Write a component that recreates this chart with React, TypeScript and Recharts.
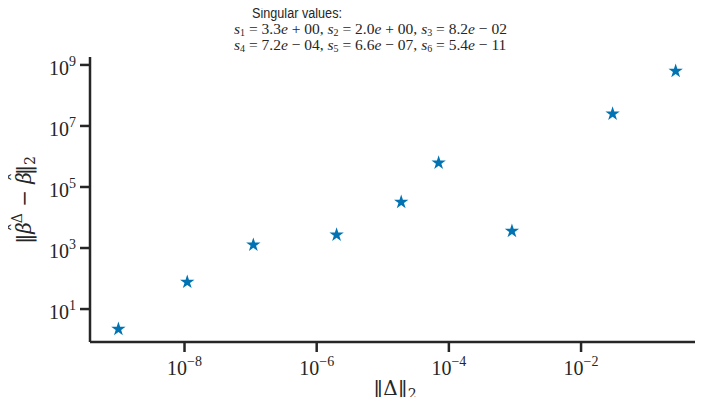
import { ScatterChart, Scatter, XAxis, YAxis, ZAxis } from "recharts"

// ||Delta||_2 and the matching ||beta_hat^Delta - beta_hat||_2
const deltaNorm = [1e-9, 1.1e-8, 1.1e-7, 2e-6, 1.9e-5, 7e-5, 9e-4, 3e-2, 0.27]
const errorNorm = [2.2, 77, 1260, 2700, 32000, 6.2e5, 3600, 2.5e7, 6.3e8]

const xTicks = [1e-8, 1e-6, 1e-4, 1e-2]
const yTicks = [1e1, 1e3, 1e5, 1e7, 1e9]

const sMantissa = ["3.3", "2.0", "8.2", "7.2", "6.6", "5.4"]
const sExpSign = ["+", "+", "−", "−", "−", "−"]
const sExponent = ["00", "00", "02", "04", "07", "11"]

const data = deltaNorm.map((x, i) => ({ x, y: errorNorm[i] }))

const SERIF = "'Liberation Serif', 'DejaVu Serif', serif"
const LABEL = "'DejaVu Serif', serif"
const SANS = "'Liberation Sans', 'DejaVu Sans', sans-serif"
const INK = "#262626"
const BLUE = "#0173B2"

const exponentOf = (v: number) => {
	const e = Math.round(Math.log10(v))
	return e < 0 ? "−" + Math.abs(e) : String(e)
}

function XTick(props: any) {
	const { x, y, payload } = props
	return (
		<text x={x} y={y + 21} textAnchor="middle" fontFamily={SERIF} fontSize={20} fill={INK}>
			10
			<tspan dy={-9} fontSize={14}>
				{exponentOf(payload.value)}
			</tspan>
		</text>
	)
}

function YTick(props: any) {
	const { x, y, payload } = props
	return (
		<text x={x - 2} y={y + 10} textAnchor="end" fontFamily={SERIF} fontSize={20} fill={INK}>
			10
			<tspan dy={-9} fontSize={14}>
				{exponentOf(payload.value)}
			</tspan>
		</text>
	)
}

function SLine({ from, to, y }: { from: number; to: number; y: number }) {
	const parts = []
	for (let i = from; i < to; i++) {
		parts.push(
			<tspan key={"s" + i} fontStyle="italic">
				s
			</tspan>,
			<tspan key={"i" + i} dy={2} fontSize={10}>
				{i + 1}
			</tspan>,
			<tspan key={"m" + i} dy={-2}>
				{" = " + sMantissa[i]}
			</tspan>,
			<tspan key={"e" + i} fontStyle="italic">
				e
			</tspan>,
			<tspan key={"x" + i}>
				{" " + sExpSign[i] + " " + sExponent[i] + (i < to - 1 ? ", " : "")}
			</tspan>
		)
	}
	return (
		<text x={234} y={y} fontFamily={SERIF} fontSize={15.5} fill={INK}>
			{parts}
		</text>
	)
}

export default function App() {
	return (
		<div style={{ position: "relative", width: 703, height: 405, margin: -8, background: "#fff" }}>
			<ScatterChart width={703} height={405} margin={{ top: 57, right: 1, bottom: 0, left: 0 }}>
				<XAxis
					type="number"
					dataKey="x"
					scale="log"
					domain={[Math.pow(10, -9.43), Math.pow(10, -0.17)]}
					allowDataOverflow
					ticks={xTicks}
					tick={<XTick />}
					tickSize={10}
					height={63}
					axisLine={{ stroke: INK, strokeWidth: 2.5 }}
					tickLine={{ stroke: INK, strokeWidth: 2.5 }}
				/>
				<YAxis
					type="number"
					dataKey="y"
					scale="log"
					domain={[Math.pow(10, -0.08), Math.pow(10, 9.26)]}
					allowDataOverflow
					ticks={yTicks}
					tick={<YTick />}
					tickSize={10}
					width={90}
					axisLine={{ stroke: INK, strokeWidth: 2.5 }}
					tickLine={{ stroke: INK, strokeWidth: 2.5 }}
				/>
				<ZAxis range={[170, 170]} />
				<Scatter data={data} shape="star" fill={BLUE} isAnimationActive={false} />
			</ScatterChart>
			<svg width={703} height={405} style={{ position: "absolute", left: 0, top: 0, pointerEvents: "none" }}>
				<text x={252} y={18} fontFamily={SANS} fontSize={14} textLength={90} lengthAdjust="spacingAndGlyphs" fill={INK}>
					Singular values:
				</text>
				<SLine from={0} to={3} y={34} />
				<SLine from={3} to={6} y={50} />
				<text x={395} y={395} textAnchor="middle" fontFamily={LABEL} fontSize={20} fill={INK}>
					‖Δ‖
					<tspan dy={4} fontSize={14}>
						2
					</tspan>
				</text>
				<text
					transform="translate(31 200) rotate(-90)"
					textAnchor="middle"
					fontFamily={LABEL}
					fontSize={20}
					fill={INK}
				>
					‖<tspan fontStyle="italic">β</tspan>
					<tspan dx={-10} dy={-7}>
						ˆ
					</tspan>
					<tspan dx={-1} dy={-2} fontSize={14}>
						Δ
					</tspan>
					<tspan dy={9}> − </tspan>
					<tspan fontStyle="italic">β</tspan>
					<tspan dx={-10} dy={-7}>
						ˆ
					</tspan>
					<tspan dx={-3} dy={7}>
						‖
					</tspan>
					<tspan dy={4} fontSize={14}>
						2
					</tspan>
				</text>
			</svg>
		</div>
	)
}
